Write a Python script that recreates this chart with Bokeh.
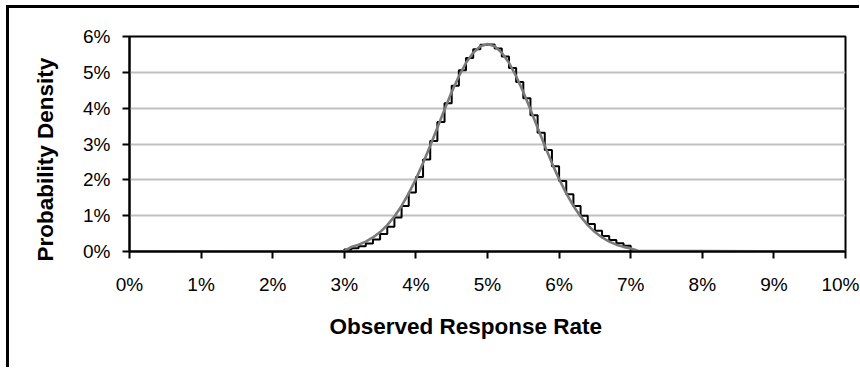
from bokeh.plotting import figure
from bokeh.models import NumeralTickFormatter, FixedTicker, Title, Range1d
from bokeh.layouts import column
from bokeh.embed import file_html
from bokeh.resources import INLINE

# Observed response rate (fraction) for the binomial step series
step_rate = [0.000, 0.030, 0.031, 0.032, 0.033, 0.034, 0.035, 0.036, 0.037, 0.038, 0.039,
             0.040, 0.041, 0.042, 0.043, 0.044, 0.045, 0.046, 0.047, 0.048, 0.049,
             0.050, 0.051, 0.052, 0.053, 0.054, 0.055, 0.056, 0.057, 0.058, 0.059,
             0.060, 0.061, 0.062, 0.063, 0.064, 0.065, 0.066, 0.067, 0.068, 0.069,
             0.070]
# Binomial probability (black steps)
step_prob = [0.0, 0.00056, 0.00092, 0.00146, 0.00226, 0.00338, 0.00491, 0.00693, 0.00951, 0.01268, 0.01647,
             0.02082, 0.02566, 0.03084, 0.03616, 0.04139, 0.04628, 0.05057, 0.05402, 0.05645, 0.05772,
             0.05778, 0.05665, 0.05441, 0.05122, 0.04728, 0.04280, 0.03801, 0.03313, 0.02835, 0.02382,
             0.01966, 0.01595, 0.01271, 0.00996, 0.00768, 0.00582, 0.00434, 0.00318, 0.00230, 0.00163,
             0.0]

# Normal approximation (gray curve)
curve_rate = [0.000, 0.030, 0.031, 0.032, 0.033, 0.034, 0.035, 0.036, 0.037, 0.038, 0.039,
              0.040, 0.041, 0.042, 0.043, 0.044, 0.045, 0.046, 0.047, 0.048, 0.049,
              0.050, 0.051, 0.052, 0.053, 0.054, 0.055, 0.056, 0.057, 0.058, 0.059,
              0.060, 0.061, 0.062, 0.063, 0.064, 0.065, 0.066, 0.067, 0.068, 0.069,
              0.070, 0.071, 0.100]
curve_prob = [0.0, 0.00010, 0.00129, 0.00191, 0.00276, 0.00391, 0.00542, 0.00736, 0.00978, 0.01272, 0.01620,
              0.02020, 0.02467, 0.02951, 0.03455, 0.03962, 0.04449, 0.04891, 0.05265, 0.05549, 0.05727,
              0.05788, 0.05727, 0.05549, 0.05265, 0.04891, 0.04449, 0.03962, 0.03455, 0.02951, 0.02467,
              0.02020, 0.01620, 0.01272, 0.00978, 0.00736, 0.00542, 0.00391, 0.00276, 0.00191, 0.00129,
              0.00086, 0.00020, 0.0]

x_ticks = [0.00, 0.01, 0.02, 0.03, 0.04, 0.05, 0.06, 0.07, 0.08, 0.09, 0.10]
y_ticks = [0.00, 0.01, 0.02, 0.03, 0.04, 0.05, 0.06]
x_title = "Observed Response Rate"
y_title = "Probability Density"

FONT = "Liberation Sans"
NBSP = "\u00a0"

p = figure(frame_width=716, frame_height=215, output_backend="svg", toolbar_location=None,
           x_range=Range1d(0, 0.10), y_range=Range1d(0, 0.06),
           min_border_left=120, min_border_top=28, min_border_right=14, min_border_bottom=116)
p.background_fill_color = "white"
p.border_fill_color = "white"
p.outline_line_color = "black"
p.outline_line_width = 2

p.xgrid.grid_line_color = None
p.ygrid.grid_line_color = "#c0c0c0"
p.ygrid.grid_line_width = 2
p.ygrid.ticker = FixedTicker(ticks=y_ticks)

for ax in (p.xaxis[0], p.yaxis[0]):
    ax.axis_line_color = "black"
    ax.axis_line_width = 2
    ax.major_tick_line_color = "black"
    ax.major_tick_line_width = 2
    ax.major_tick_out = 7
    ax.major_tick_in = 0
    ax.minor_tick_line_color = None
    ax.major_label_text_font = FONT
    ax.major_label_text_font_size = "19px"
    ax.major_label_text_color = "black"
    ax.formatter = NumeralTickFormatter(format="0%")

p.xaxis.ticker = FixedTicker(ticks=x_ticks)
p.yaxis.ticker = FixedTicker(ticks=y_ticks)
p.xaxis.major_label_standoff = 15
p.yaxis.major_label_standoff = 12

# y title as axis label (padding shifts the centred text slightly downwards)
p.yaxis.axis_label = y_title + NBSP * 5
p.yaxis.axis_label_text_font = FONT
p.yaxis.axis_label_text_font_size = "22.5px"
p.yaxis.axis_label_text_font_style = "bold"
p.yaxis.axis_label_text_color = "black"
p.yaxis.axis_label_standoff = 22

p.step(step_rate, step_prob, mode="after", line_color="black", line_width=2)
p.line(curve_rate, curve_prob, line_color="#7a7a7a", line_width=2.6)

p.add_layout(Title(text=x_title, align="left", offset=200, text_font=FONT,
                   text_font_size="22.5px", text_font_style="bold", text_color="black",
                   standoff=29), "below")

layout = column(p, styles={"border-left": "3px solid black", "border-top": "3px solid black",
                           "margin-left": "6px", "margin-top": "5px"})

open("out.html", "w").write(file_html(layout, INLINE))
